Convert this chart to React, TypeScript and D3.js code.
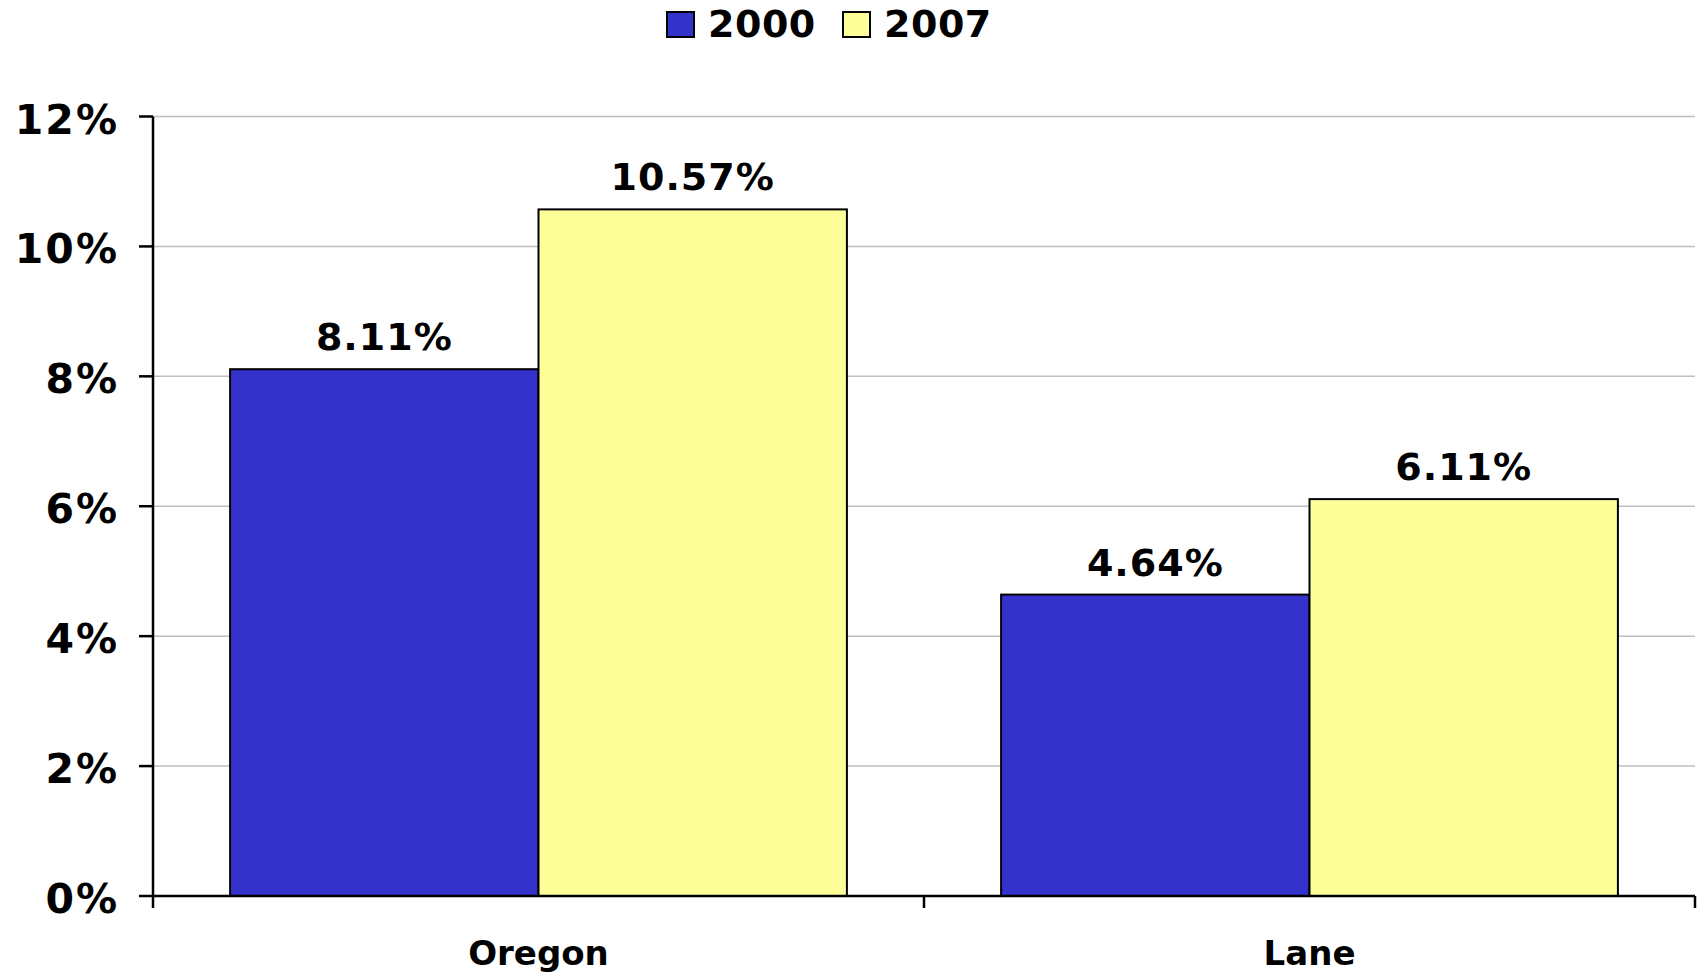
import React from "react";
import { scaleBand, scaleLinear } from "d3";

const categories = ["Oregon", "Lane"];
const seriesNames = ["2000", "2007"];
const values2000 = [8.11, 4.64];
const values2007 = [10.57, 6.11];
const yTicks = [0, 2, 4, 6, 8, 10, 12];
const seriesColors = ["#3333CC", "#FFFF99"];

const W = 1703;
const H = 976;
const left = 153;
const right = 1695;
const top = 116.5;
const bottom = 896;
const font = "'DejaVu Sans', Verdana, sans-serif";

export default function App() {
  const x0 = scaleBand().domain(categories).range([left, right]).padding(0);
  const x1 = scaleBand()
    .domain(seriesNames)
    .range([0, x0.bandwidth()])
    .paddingInner(0)
    .paddingOuter(0.25);
  const y = scaleLinear().domain([0, 12]).range([bottom, top]);
  const seriesValues = [values2000, values2007];

  return (
    <div style={{ position: "absolute", left: 0, top: 0, background: "#fff" }}>
      <svg width={W} height={H} style={{ display: "block", fontFamily: font, fontWeight: "bold" }}>
        <rect width={W} height={H} fill="#fff" />
        {/* gridlines */}
        {yTicks.filter((t) => t > 0).map((t) => (
          <line key={t} x1={left} x2={right} y1={y(t)} y2={y(t)} stroke="#c0c0c0" strokeWidth={1.5} />
        ))}
        {/* bars */}
        {categories.map((c, ci) =>
          seriesNames.map((s, si) => {
            const v = seriesValues[si][ci];
            const bx = x0(c)! + x1(s)!;
            return (
              <g key={c + s}>
                <rect
                  x={bx}
                  y={y(v)}
                  width={x1.bandwidth()}
                  height={y(0) - y(v)}
                  fill={seriesColors[si]}
                  stroke="#000"
                  strokeWidth={2}
                />
                <text
                  x={bx + x1.bandwidth() / 2}
                  y={y(v) - 19}
                  textAnchor="middle"
                  fontSize={38}
                  letterSpacing={1}
                  fill="#000"
                >
                  {v.toFixed(2)}%
                </text>
              </g>
            );
          })
        )}
        {/* y axis */}
        <line x1={left} x2={left} y1={top} y2={bottom} stroke="#000" strokeWidth={2.5} />
        {yTicks.map((t) => (
          <g key={t}>
            <line x1={left - 14} x2={left} y1={y(t)} y2={y(t)} stroke="#000" strokeWidth={2.5} />
            <text x={119} y={y(t) + 17} textAnchor="end" fontSize={41} letterSpacing={2} fill="#000">
              {t}%
            </text>
          </g>
        ))}
        {/* x axis */}
        <line x1={left} x2={right} y1={bottom} y2={bottom} stroke="#000" strokeWidth={2.5} />
        {[left, ...categories.map((c) => x0(c)! + x0.bandwidth())].map((xv, i) => (
          <line key={i} x1={xv} x2={xv} y1={bottom} y2={bottom + 12} stroke="#000" strokeWidth={2.5} />
        ))}
        {categories.map((c) => (
          <text key={c} x={x0(c)! + x0.bandwidth() / 2} y={965} textAnchor="middle" fontSize={34} fill="#000">
            {c}
          </text>
        ))}
        {/* legend */}
        {seriesNames.map((s, i) => {
          const lx = i === 0 ? 667 : 843;
          return (
            <g key={s}>
              <rect x={lx} y={12} width={27} height={25} fill={seriesColors[i]} stroke="#000" strokeWidth={2} />
              <text x={lx + 41} y={37} fontSize={38} letterSpacing={0.5} fill="#000">
                {s}
              </text>
            </g>
          );
        })}
      </svg>
    </div>
  );
}
